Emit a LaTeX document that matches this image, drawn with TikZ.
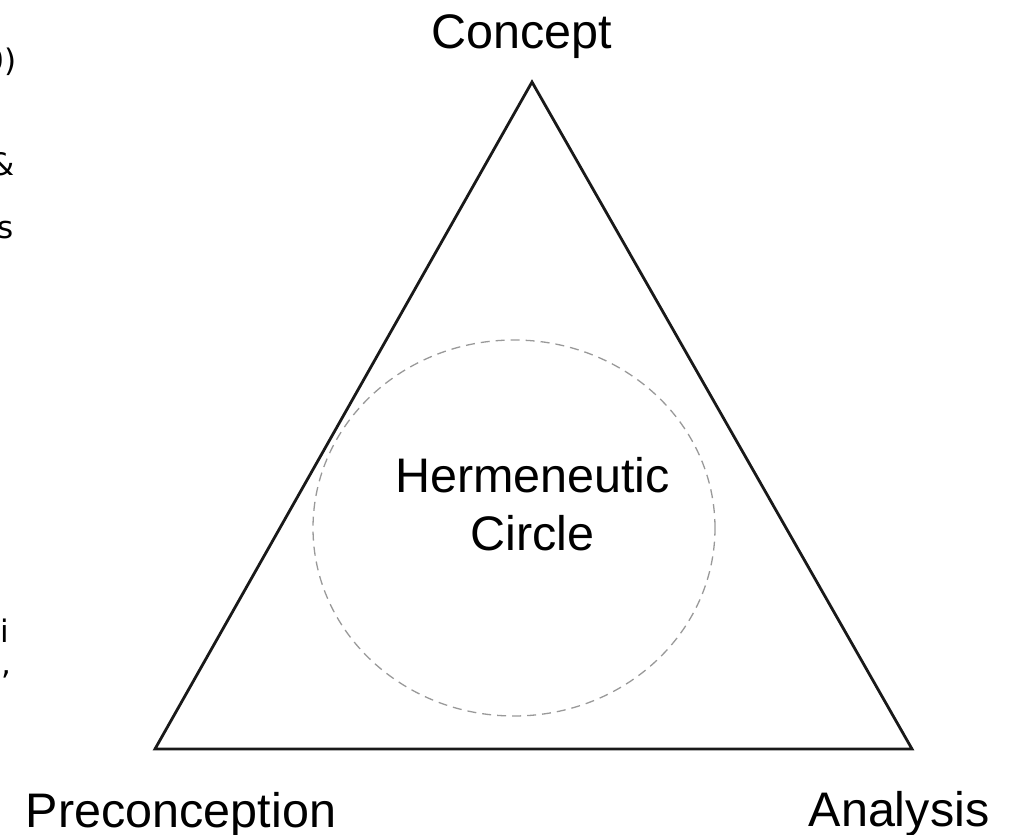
\documentclass[tikz,border=0pt]{standalone}
\usepackage{fontspec}
\usetikzlibrary{shapes.geometric}
\setmainfont{Liberation Sans}
\newfontfamily\fragfont{DejaVu Sans}
\begin{document}
\begin{tikzpicture}[x=1pt,y=-1pt,
  lbl/.style={font=\fontsize{48.5}{58}\selectfont, inner sep=0pt},
  frag/.style={font=\fragfont\fontsize{31}{33}\selectfont, inner sep=0pt, anchor=base east},
  tri/.style={draw=black!90, line width=2.8pt, line join=miter},
  hcircle/.style={draw=black!40, line width=1.3pt, dash pattern=on 9pt off 6pt}]
\useasboundingbox (0,0) rectangle (1018,835);
\clip (0,0) rectangle (1018,835);
% triangle corners
\coordinate (apex) at (532,82);
\coordinate (bl) at (155,749);
\coordinate (br) at (912,749);
\draw[tri] (apex) -- (br) -- (bl) -- cycle;
% dashed circle
\node[hcircle, ellipse, minimum width=402pt, minimum height=376pt, inner sep=0pt] (circ) at (514,528) {};
% labels
\node[lbl, anchor=base] (concept) at (522,48) {Concept};
\node[lbl, anchor=base] (pre) at (181,827) {Preconception};
\node[lbl, anchor=base] (ana) at (899,826) {Analysis};
\node[lbl, anchor=base, align=center] (herm) at (532.5,550) {Hermeneutic\\Circle};
% cut-off text fragments of the neighbouring page
\node[frag] (f1) at (17,71) {0)};
\node[frag] (f2) at (15,175) {\&};
\node[frag] (f3) at (14,238) {s};
\node[frag] (f4) at (9,642) {i};
\node[frag] (f5) at (12,674) {,};
\end{tikzpicture}
\end{document}
